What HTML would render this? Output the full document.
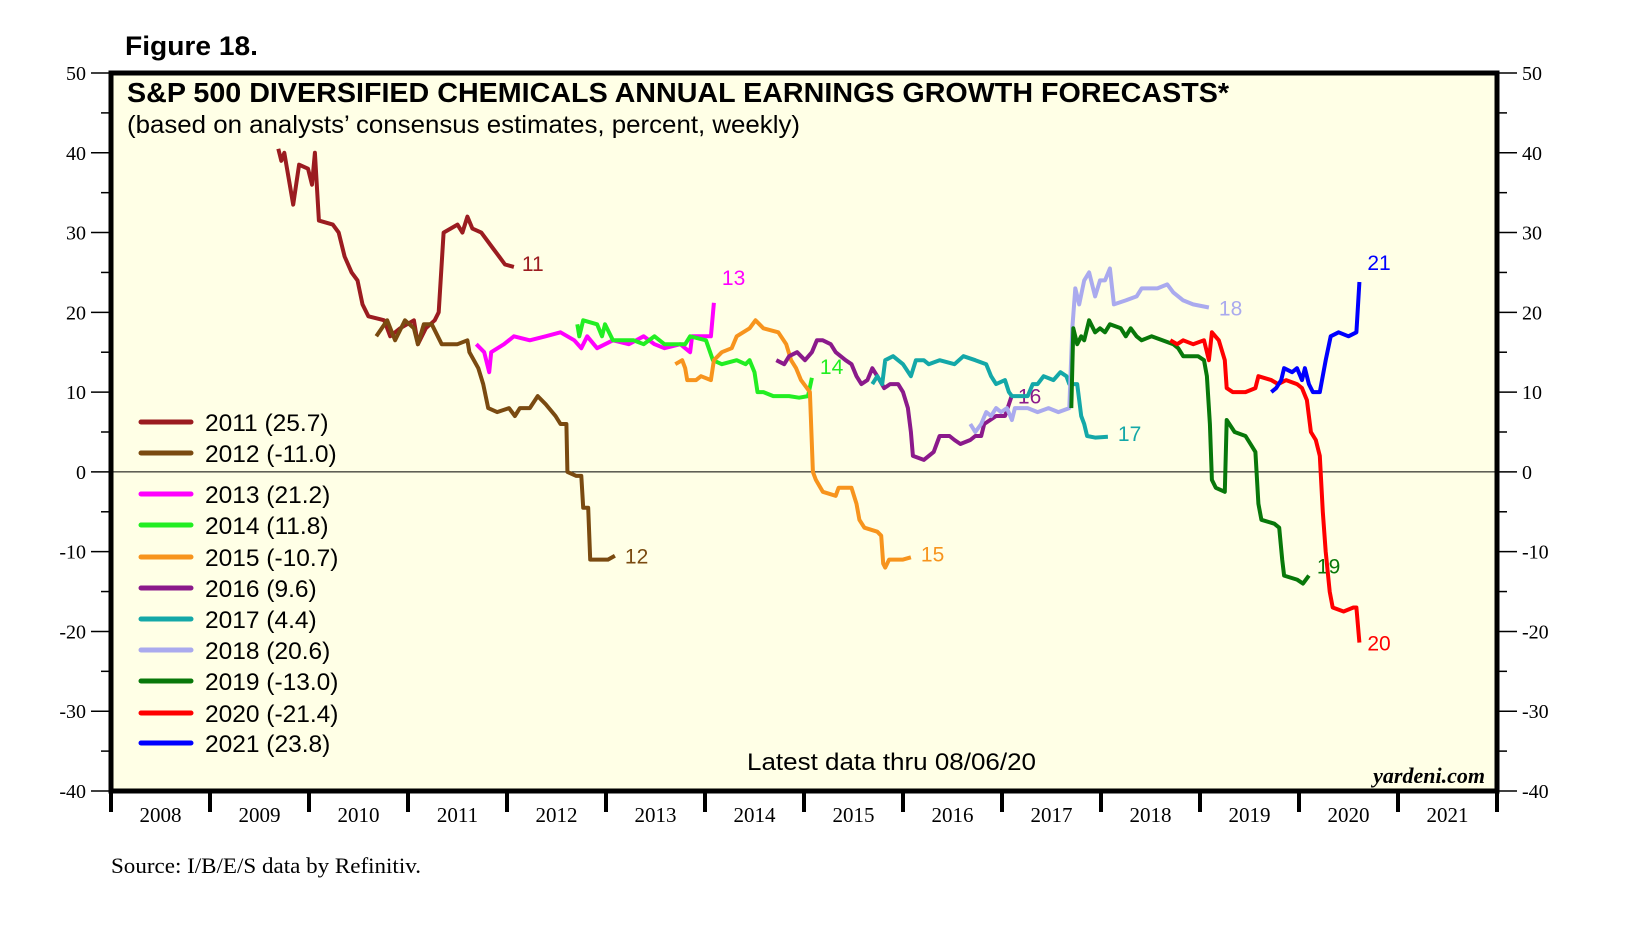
<!DOCTYPE html>
<html><head><meta charset="utf-8"><style>
html,body{margin:0;padding:0;background:#fff;}
svg{display:block;}
</style></head><body>
<svg id="chart" width="1625" height="928" xmlns="http://www.w3.org/2000/svg">
<text x="125" y="55" font-family="Liberation Sans, sans-serif" font-weight="bold" font-size="27" textLength="133" lengthAdjust="spacingAndGlyphs">Figure 18.</text>
<rect x="111" y="73" width="1386" height="718" fill="#FFFFE6"/>
<g id="axes"></g>
<g id="series"></g>
<rect x="111" y="73" width="1386" height="718" fill="none" stroke="#000" stroke-width="5"/>
<text x="127" y="102" font-family="Liberation Sans, sans-serif" font-weight="bold" font-size="28" textLength="1102" lengthAdjust="spacingAndGlyphs">S&amp;P 500 DIVERSIFIED CHEMICALS ANNUAL EARNINGS GROWTH FORECASTS*</text>
<text x="127" y="133" font-family="Liberation Sans, sans-serif" font-size="25" textLength="673" lengthAdjust="spacingAndGlyphs">(based on analysts’ consensus estimates, percent, weekly)</text>
<g id="legend"></g>
<text x="747" y="770" font-family="Liberation Sans, sans-serif" font-size="24" textLength="289" lengthAdjust="spacingAndGlyphs">Latest data thru 08/06/20</text>
<text x="1485" y="783" text-anchor="end" font-family="Liberation Serif, serif" font-style="italic" font-weight="bold" font-size="22">yardeni.com</text>
<text x="111" y="873" font-family="Liberation Serif, serif" font-size="22" textLength="310" lengthAdjust="spacingAndGlyphs">Source: I/B/E/S data by Refinitiv.</text>
</svg>
<script>
const yTicks = [50,40,30,20,10,0,-10,-20,-30,-40];
const yMinor = [45,35,25,15,5,-5,-15,-25,-35];
const years = [2008,2009,2010,2011,2012,2013,2014,2015,2016,2017,2018,2019,2020,2021];
const seriesNames = ["2011","2012","2013","2014","2015","2016","2017","2018","2019","2020","2021"];
const seriesFinal = ["25.7","-11.0","21.2","11.8","-10.7","9.6","4.4","20.6","-13.0","-21.4","23.8"];
const endLabels = ["11","12","13","14","15","16","17","18","19","20","21"];
const s2011t=[2009.69,2009.72,2009.75,2009.84,2009.90,2009.99,2010.03,2010.06,2010.10,2010.24,2010.30,2010.36,2010.43,2010.49,2010.54,2010.60,2010.76,2010.82,2010.92,2011.06,2011.10,2011.18,2011.27,2011.31,2011.36,2011.50,2011.55,2011.60,2011.65,2011.74,2011.86,2011.92,2011.98,2012.07];
const s2011v=[40.5,39,40,33.5,38.5,38,36,40,31.5,31,30,27,25,24,21,19.5,19,17,18,19,16,18,19,20,30,31,30,32,30.5,30,28,27,26,25.7];
const s2012t=[2010.68,2010.79,2010.87,2010.97,2011.06,2011.10,2011.16,2011.24,2011.34,2011.50,2011.60,2011.62,2011.71,2011.76,2011.81,2011.90,2012.02,2012.08,2012.13,2012.23,2012.31,2012.39,2012.49,2012.54,2012.60,2012.61,2012.70,2012.75,2012.77,2012.82,2012.84,2013.02,2013.09];
const s2012v=[17,19,16.5,19,18,16,18.5,18.5,16,16,16.5,15,13,11,8,7.5,8,7,8,8,9.5,8.5,7,6,6,0,-0.5,-0.5,-4.5,-4.5,-11,-11,-10.5];
const s2013t=[2011.69,2011.77,2011.82,2011.84,2011.97,2012.07,2012.23,2012.39,2012.54,2012.68,2012.75,2012.81,2012.91,2013.07,2013.23,2013.38,2013.49,2013.59,2013.75,2013.85,2013.87,2014.06,2014.09];
const s2013v=[16,15,12.5,15,16,17,16.5,17,17.5,16.5,15.5,17,15.5,16.5,16,17,16,15.5,16,15,17,17,21.2];
const s2014t=[2012.71,2012.73,2012.77,2012.91,2012.96,2012.99,2013.07,2013.28,2013.38,2013.49,2013.59,2013.80,2013.85,2014.01,2014.08,2014.17,2014.32,2014.41,2014.45,2014.50,2014.53,2014.59,2014.69,2014.85,2014.95,2015.04,2015.08];
const s2014v=[18.5,17,19,18.5,17,18.5,16.5,16.5,16,17,16,16,17,16.5,14,13.5,14,13.5,14,12.5,10,10,9.5,9.5,9.3,9.5,11.8];
const s2015t=[2013.70,2013.77,2013.80,2013.82,2013.91,2013.96,2014.06,2014.09,2014.17,2014.27,2014.32,2014.45,2014.51,2014.59,2014.74,2014.82,2014.87,2014.92,2014.97,2015.06,2015.09,2015.12,2015.19,2015.32,2015.35,2015.48,2015.53,2015.56,2015.61,2015.74,2015.78,2015.80,2015.82,2015.86,2016.00,2016.08];
const s2015v=[13.5,14,13,11.5,11.5,12,11.5,14,15,15.5,17,18,19,18,17.5,16,14,13,11.5,10,0,-1,-2.5,-3,-2,-2,-4,-6,-7,-7.5,-8,-11.5,-12,-11,-11,-10.7];
const s2016t=[2014.72,2014.80,2014.85,2014.93,2015.01,2015.08,2015.13,2015.19,2015.27,2015.32,2015.42,2015.48,2015.53,2015.58,2015.64,2015.69,2015.74,2015.81,2015.87,2015.95,2016.00,2016.05,2016.08,2016.10,2016.21,2016.31,2016.37,2016.47,2016.52,2016.58,2016.68,2016.73,2016.79,2016.82,2016.94,2017.03,2017.10];
const s2016v=[14,13.5,14.5,15,14,15,16.5,16.5,16,15,14,13.5,12,11,11.5,13,12,10.5,11,11,10,8,5,2,1.5,2.5,4.5,4.5,4,3.5,4,4.5,4.5,6,7,7,9.6];
const s2017t=[2015.69,2015.74,2015.79,2015.82,2015.90,2016.00,2016.08,2016.13,2016.21,2016.26,2016.37,2016.52,2016.61,2016.73,2016.84,2016.89,2016.94,2017.03,2017.07,2017.10,2017.26,2017.31,2017.36,2017.42,2017.52,2017.59,2017.65,2017.68,2017.76,2017.80,2017.83,2017.86,2017.94,2018.07];
const s2017v=[11,12,11,14,14.5,13.5,12,14,14,13.5,14,13.5,14.5,14,13.5,12,11,11.5,10,9.5,9.5,11,11,12,11.5,12.5,12,11,11,7,6,4.5,4.3,4.4];
const s2018t=[2016.68,2016.73,2016.79,2016.84,2016.89,2016.94,2016.99,2017.05,2017.10,2017.13,2017.26,2017.36,2017.47,2017.57,2017.68,2017.71,2017.74,2017.78,2017.83,2017.88,2017.94,2017.99,2018.04,2018.09,2018.13,2018.25,2018.36,2018.41,2018.57,2018.67,2018.73,2018.83,2018.93,2019.09];
const s2018v=[6,5,6,7.5,7,8,7.5,8,6.5,8,8,7.5,8,7.5,8,18,23,21,24,25,22,24,24,25.5,21,21.5,22,23,23,23.5,22.5,21.5,21,20.6];
const s2019t=[2017.70,2017.72,2017.76,2017.80,2017.83,2017.88,2017.94,2017.99,2018.04,2018.09,2018.20,2018.25,2018.30,2018.36,2018.41,2018.51,2018.62,2018.73,2018.78,2018.83,2018.98,2019.04,2019.07,2019.10,2019.12,2019.16,2019.25,2019.27,2019.35,2019.46,2019.51,2019.56,2019.59,2019.62,2019.75,2019.80,2019.83,2019.85,2019.98,2020.04,2020.10];
const s2019v=[8,18,16,17,16.5,19,17.5,18,17.5,18.5,18,17,18,17,16.5,17,16.5,16,15.5,14.5,14.5,14,12,6,-1,-2,-2.5,6.5,5,4.5,3.5,2.5,-4,-6,-6.5,-7,-11,-13,-13.5,-14,-13];
const s2020t=[2018.70,2018.77,2018.83,2018.93,2019.04,2019.09,2019.12,2019.19,2019.25,2019.27,2019.33,2019.46,2019.56,2019.59,2019.72,2019.79,2019.87,2019.98,2020.03,2020.08,2020.12,2020.17,2020.21,2020.24,2020.27,2020.31,2020.34,2020.45,2020.55,2020.58,2020.61];
const s2020v=[16.5,16,16.5,16,16.5,14,17.5,16.5,14,10.5,10,10,10.5,12,11.5,11,11.5,11,10.5,9,5,4,2,-5,-10,-15,-17,-17.5,-17,-17,-21.4];
const s2021t=[2019.72,2019.77,2019.82,2019.85,2019.93,2019.98,2020.03,2020.06,2020.10,2020.14,2020.21,2020.27,2020.32,2020.40,2020.50,2020.58,2020.61];
const s2021v=[10,10.5,11.5,13,12.5,13,11.5,13,11,10,10,14,17,17.5,17,17.5,23.8];

const allT=[s2011t,s2012t,s2013t,s2014t,s2015t,s2016t,s2017t,s2018t,s2019t,s2020t,s2021t];
const allV=[s2011v,s2012v,s2013v,s2014v,s2015v,s2016v,s2017v,s2018v,s2019v,s2020v,s2021v];
const colors=["#9B1C20","#7A4A10","#FF00FF","#22EE22","#F7941D","#8B1A8B","#14A8A8","#AAAAEE","#08780A","#FF0000","#0000FF"];
const labelOff=[[8,4],[10,8],[8,-18],[8,-4],[10,4],[6,8],[10,4],[10,8],[8,-2],[8,8],[8,-12]];

const NS="http://www.w3.org/2000/svg";
const X0=111,X1=1497,Y0=73,Y1=791;
function xS(t){return X0+(t-2008)*(X1-X0)/14;}
function yS(v){return Y0+(50-v)*(Y1-Y0)/90;}
function mk(tag,attrs,parent){const e=document.createElementNS(NS,tag);for(const k in attrs)e.setAttribute(k,attrs[k]);parent.appendChild(e);return e;}
const axes=document.getElementById('axes');
yTicks.forEach(v=>{
  const y=yS(v);
  let l=mk('line',{x1:91,x2:X0,y1:y,y2:y,stroke:'#000','stroke-width':1.5},axes);
  
  
  l=mk('line',{x1:X1,x2:1517,y1:y,y2:y,stroke:'#000','stroke-width':1.5},axes);
  
  
  let t=mk('text',{x:86,y:y+7,'text-anchor':'end','font-family':'Liberation Serif, serif','font-size':20},axes);
  t.textContent=v;
  
  
  t=mk('text',{x:1522,y:y+7,'font-family':'Liberation Serif, serif','font-size':20},axes);
  t.textContent=v;
  
  
});
yMinor.forEach(v=>{
  const y=yS(v);
  let l=mk('line',{x1:101,x2:X0,y1:y,y2:y,stroke:'#000','stroke-width':1.5},axes);
  
  
  l=mk('line',{x1:X1,x2:1507,y1:y,y2:y,stroke:'#000','stroke-width':1.5},axes);
  
  
});
let zl=mk('line',{x1:X0,x2:X1,y1:yS(0),y2:yS(0),stroke:'#000','stroke-width':1},axes);


for(let i=0;i<=years.length;i++){
  const x=xS(2008+i);
  const l=mk('line',{x1:x,x2:x,y1:Y1,y2:Y1+21,stroke:'#000','stroke-width':4},axes);
  
  
}
years.forEach(yr=>{
  const t=mk('text',{x:xS(yr+0.5),y:822,'text-anchor':'middle','font-family':'Liberation Serif, serif','font-size':21},axes);
  t.textContent=yr;
  
  
});
const sg=document.getElementById('series');
allT.forEach((ts,i)=>{
  const vs=allV[i];
  const d=ts.map((t,j)=>(j?'L':'M')+xS(t).toFixed(1)+','+yS(vs[j]).toFixed(1)).join('');
  const p=mk('path',{d:d,fill:'none',stroke:colors[i],'stroke-width':4,'stroke-linejoin':'round'},sg);
  
  
  const n=ts.length-1;
  const t=mk('text',{x:xS(ts[n])+labelOff[i][0],y:yS(vs[n])+labelOff[i][1],fill:colors[i],'font-family':'Liberation Sans, sans-serif','font-size':21},sg);
  t.textContent=endLabels[i];
  
  
});
const lg=document.getElementById('legend');
const legY=[431,462,503,534,566,597,628,659,690,722,752];
seriesNames.forEach((nm,i)=>{
  const y=legY[i];
  const l=mk('line',{x1:141,x2:191,y1:y-9,y2:y-9,stroke:colors[i],'stroke-width':5,'stroke-linecap':'round'},lg);
  
  
  const t=mk('text',{x:205,y:y,'font-family':'Liberation Sans, sans-serif','font-size':24.5},lg);
  t.textContent=nm+' ('+seriesFinal[i]+')';
  
  
});
</script>
</body></html>
